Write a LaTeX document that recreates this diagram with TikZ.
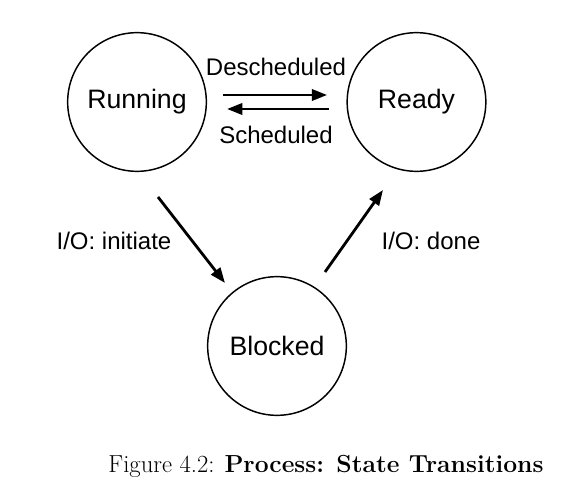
\documentclass[tikz,border=0pt]{standalone}
\usepackage{fontspec}
\newfontfamily\helv{Liberation Sans}
\usetikzlibrary{arrows.meta}

\begin{document}
\begin{tikzpicture}[x=0.75pt, y=-0.75pt]

	\tikzstyle{estado}=[circle, draw, line width=1.1pt, minimum size=104pt, inner sep=0pt, font=\helv\fontsize{20}{24}\selectfont]
	\tikzstyle{trans}=[line width=2.1pt, -{Triangle[length=11.5pt, width=8.5pt]}]
	\tikzstyle{etiq}=[anchor=base, inner sep=0pt, font=\helv\fontsize{18}{22}\selectfont]

	\useasboundingbox (0, 0) rectangle (565, 499);

	\coordinate (running) at (137, 102);
	\coordinate (ready) at (416.5, 102);
	\coordinate (blocked) at (277, 346);

	\coordinate (l_desc) at (276, 76);
	\coordinate (l_sched) at (276, 144);
	\coordinate (l_init) at (114, 250);
	\coordinate (l_done) at (431, 250);
	\coordinate (caption) at (326, 473);

	\coordinate (init_a) at (158, 197); % INICIO E/S
	\coordinate (init_b) at (225, 283); % INICIO E/S
	\coordinate (done_a) at (325, 272); % FIN E/S
	\coordinate (done_b) at (383, 190); % FIN E/S

	\node[estado] (running) at (running) {Running};
	\node[estado] (ready) at (ready) {Ready};
	\node[estado] (blocked) at (blocked) {Blocked};

	\node[etiq] (l_desc) at (l_desc) {Descheduled};
	\node[etiq] (l_sched) at (l_sched) {Scheduled};
	\node[etiq] (l_init) at (l_init) {I/O: initiate};
	\node[etiq] (l_done) at (l_done) {I/O: done};

	%%%%%%%%%%%%%%%%%%%%%%%%%%%%%%%%%
	%%%%%%% TRANSICIONES %%%%%%%%
	\draw[trans, shorten <=12pt, shorten >=14.5pt] ([yshift=5.25pt]running.east) -- ([yshift=5.25pt]ready.west);
	\draw[trans, shorten <=13pt, shorten >=15pt] ([yshift=-5.25pt]ready.west) -- ([yshift=-5.25pt]running.east);

	\draw[trans] (init_a) -- (init_b);
	\draw[trans] (done_a) -- (done_b);
	%%%%%%%%%%%%%%%%%%%%%%%%%%%%%%%%%

	\node[anchor=base, inner sep=0pt, font=\fontsize{18.5}{22}\selectfont] (caption) at (caption) {Figure 4.2: \textbf{Process: State Transitions}};
\end{tikzpicture}
\end{document}
